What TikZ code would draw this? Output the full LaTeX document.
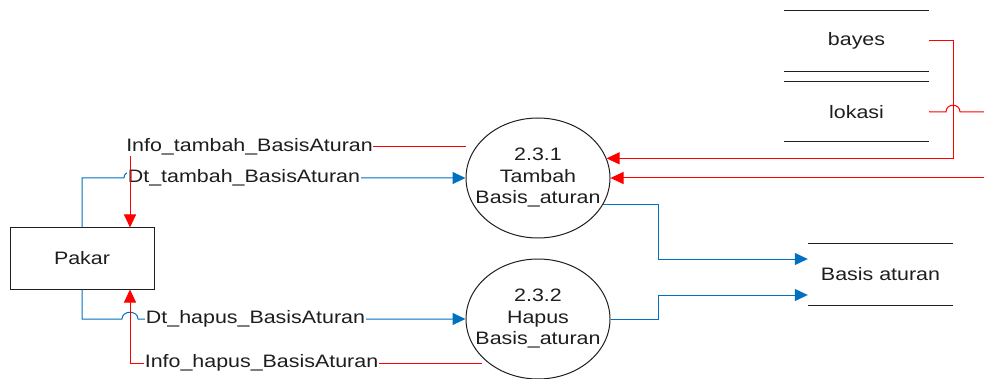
\documentclass[tikz,border=0pt]{standalone}
\usepackage{fontspec}
\setmainfont{Liberation Sans}[FakeStretch=1.19]
\usetikzlibrary{arrows.meta,shapes.geometric}
\definecolor{flowblue}{RGB}{0,112,192}
\definecolor{flowred}{RGB}{255,0,0}
\definecolor{ink}{RGB}{30,30,30}
\begin{document}
\begin{tikzpicture}[x=1pt,y=-1pt,
  every node/.style={font=\fontsize{18}{21.5}\selectfont, text=ink},
  outline/.style={draw=ink, line width=1pt},
  proc/.style={outline, ellipse, minimum width=144pt, minimum height=120pt, inner sep=0pt},
  entity/.style={outline, rectangle, minimum width=144pt, minimum height=61pt},
  store/.style={minimum width=145pt, minimum height=60pt, inner sep=0pt},
  blueflow/.style={draw=flowblue, line width=1pt},
  redflow/.style={draw=flowred, line width=1pt},
  tip/.style={-{Triangle[length=13pt,width=12pt]}},
  flowlabel/.style={fill=white, inner sep=0.5pt}
]
\useasboundingbox (0,0) rectangle (984,379);

% external entity and processes
\node[entity] (pakar) at (82,258.5) {Pakar};
\node[proc] (p231) at (538,178) {};
\node[align=center] (t231) at (p231.center) {2.3.1\\Tambah\\Basis\_aturan};
\node[proc] (p232) at (538,319) {};
\node[align=center] (t232) at (p232.center) {2.3.2\\Hapus\\Basis\_aturan};

% data stores
\node[store] (bayes) at (856.5,41) {bayes};
\node[store] (lokasi) at (856.5,111.75) {lokasi};
\node[store, minimum height=61pt] (ba) at (880.5,274.5) {Basis aturan};
\foreach \s in {bayes,lokasi,ba}
  \draw[outline] (\s.north west) -- (\s.north east) (\s.south west) -- (\s.south east);

% loose ends leaving the drawing on the right
\coordinate (lokout) at (984,112);
\coordinate (lokin) at (984,178);

% data flows from Pakar
\draw[blueflow, tip] (pakar.north) |- (124,178)
  .. controls (124,170) and (136,170) .. (136,178) -- (p231.west);
\draw[blueflow, tip] (pakar.south) |- (122,319)
  .. controls (122,310) and (138,310) .. (138,319) -- (p232.west);
\node[flowlabel] (dtt) at (244,178) {Dt\_tambah\_BasisAturan};
\node[flowlabel] (dth) at (255.5,319) {Dt\_hapus\_BasisAturan};

% information back to Pakar
\draw[redflow, tip] (p231.west |- 0,147) -| (pakar.north -| 130,0);
\draw[redflow, tip] ([shift={(-56,44)}]p232.center) -| (pakar.south -| 130,0);
\node[flowlabel] (itb) at (249.5,147) {Info\_tambah\_BasisAturan};
\node[flowlabel] (ihb) at (261.5,363) {Info\_hapus\_BasisAturan};

% reads from the stores
\draw[redflow, tip] (bayes.east) -- ++(24,0) |- (p231.16);
\draw[redflow] (lokasi.east) -- (946,112)
  .. controls (946,103) and (960,103) .. (960,112) -- (lokout);
\draw[redflow, tip] (lokin) -- (p231.east);

% writes to Basis aturan
\draw[blueflow, tip] (p231.-22) -| (658,259) -- (ba.west |- 0,259);
\draw[blueflow, tip] (p232.east) -| (658,295) -- (ba.west |- 0,295);
\end{tikzpicture}
\end{document}
